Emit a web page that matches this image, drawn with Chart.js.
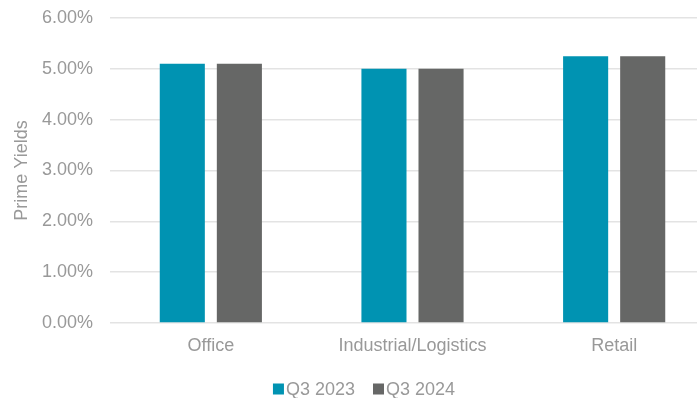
<!DOCTYPE html>
<html>
<head>
<meta charset="utf-8">
<script src="https://cdn.jsdelivr.net/npm/chart.js@4.4.1/dist/chart.umd.min.js"></script>
<style>
  html, body { margin: 0; padding: 0; background: #fff; overflow: hidden; }
  #wrap { width: 697px; height: 398px; overflow: hidden; }
  #box { width: 715px; height: 398px; }
</style>
</head>
<body>
<div id="wrap"><div id="box"><canvas id="yields"></canvas></div></div>
<script>
const categories = ['Office', 'Industrial/Logistics', 'Retail'];
const q3_2023 = [5.10, 5.00, 5.25];
const q3_2024 = [5.10, 5.00, 5.25];
const yTicks = [0, 1, 2, 3, 4, 5, 6];

const teal = '#0093b2';
const grey = '#666766';
const textGrey = '#999999';
const fontFamily = '"Liberation Sans", Arial, sans-serif';
const fontSize = 18;

// legend drawn by hand: small square, small gap, text
const bottomLegend = {
    id: 'bottomLegend',
    afterDraw(chart) {
        const ctx = chart.ctx;
        ctx.save();
        ctx.font = fontSize + 'px ' + fontFamily;
        ctx.textBaseline = 'middle';
        const items = chart.data.datasets.map(ds => ({ text: ds.label, color: ds.backgroundColor }));
        const box = 11, gap = 2, spacing = 18;
        let total = 0;
        items.forEach((it, i) => {
            total += box + gap + ctx.measureText(it.text).width + (i ? spacing : 0);
        });
        let x = 364 - total / 2;
        const y = 389;
        items.forEach((it, i) => {
            if (i) x += spacing;
            ctx.fillStyle = it.color;
            ctx.fillRect(x, y - box / 2, box, box);
            x += box + gap;
            ctx.fillStyle = textGrey;
            ctx.fillText(it.text, x, y + 1);
            x += ctx.measureText(it.text).width;
        });
        ctx.restore();
    }
};

const el = document.getElementById('yields');
const chart = new Chart(el, {
    type: 'bar',
    data: {
        labels: categories,
        datasets: [{
            label: 'Q3 2023',
            data: q3_2023,
            backgroundColor: teal,
            barPercentage: 0.79,
            categoryPercentage: 0.566
        }, {
            label: 'Q3 2024',
            data: q3_2024,
            backgroundColor: grey,
            barPercentage: 0.79,
            categoryPercentage: 0.566
        }]
    },
    options: {
        responsive: true,
        maintainAspectRatio: false,
        animation: false,
        layout: { padding: { top: 18, bottom: 35, right: 0, left: 0 } },
        plugins: {
            legend: { display: false },
            tooltip: { enabled: false }
        },
        scales: {
            x: {
                grid: { display: false },
                border: { display: false },
                ticks: {
                    color: textGrey,
                    font: { family: fontFamily, size: fontSize },
                    padding: 4,
                    maxRotation: 0
                },
                afterFit(scale) { scale.height = 40; }
            },
            y: {
                min: 0,
                max: 6,
                afterBuildTicks(scale) { scale.ticks = yTicks.map(v => ({ value: v })); },
                grid: { color: '#e3e3e3', lineWidth: 1.5, drawTicks: false },
                border: { display: false },
                ticks: {
                    color: textGrey,
                    font: { family: fontFamily, size: fontSize },
                    padding: 17,
                    callback: v => v.toFixed(2) + '%'
                },
                title: {
                    display: true,
                    text: 'Prime Yields',
                    color: textGrey,
                    font: { family: fontFamily, size: fontSize },
                    padding: { top: 11, bottom: 0 }
                },
                afterFit(scale) {
                    scale.width = 110;
                    // tick padding would otherwise push the plot down
                    scale.paddingTop = 0;
                    scale.paddingBottom = 0;
                }
            }
        }
    },
    plugins: [bottomLegend]
});
</script>
</body>
</html>
